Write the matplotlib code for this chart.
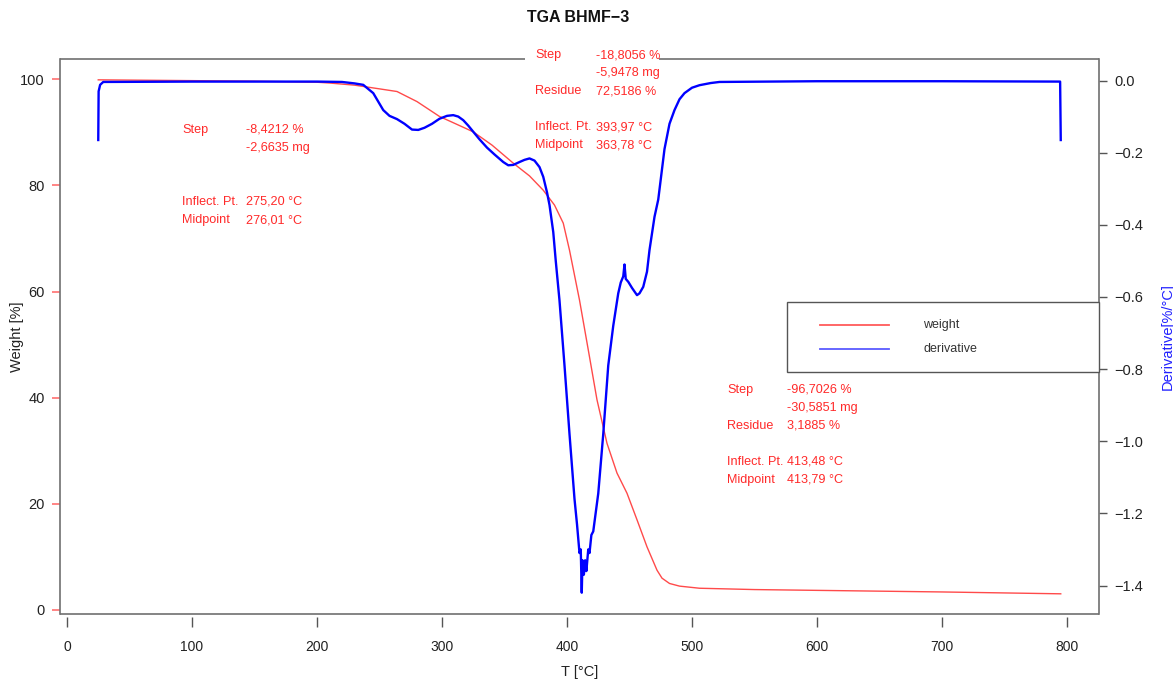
import matplotlib
matplotlib.use("Agg")
import matplotlib.pyplot as plt
from matplotlib.lines import Line2D
from matplotlib.patches import Rectangle

# ---- data -------------------------------------------------------------
weight_temp = [25, 50, 100, 150, 200, 210, 230, 250, 264, 280, 298, 312, 325,
               340, 357, 370, 381, 390, 397, 402, 410, 418, 424, 432, 440, 448,
               456, 464, 472, 476, 482, 490, 506, 550, 600, 700, 795]
weight_pct = [99.9, 99.85, 99.75, 99.65, 99.45, 99.3, 98.9, 98.2, 97.7, 95.8,
              93.0, 91.5, 90.1, 87.6, 84.2, 81.8, 79.1, 76.3, 72.9, 67.8, 58.4,
              47.7, 39.6, 31.4, 25.8, 22.0, 17.0, 11.9, 7.5, 6.0, 5.0, 4.5, 4.1,
              3.85, 3.7, 3.4, 3.05]

deriv_temp = [25.0, 25.3, 26.5, 29, 100, 200, 220, 230, 237, 245, 253, 258, 264,
              270, 276, 281, 286, 292, 298, 304, 309, 313, 317, 321, 325, 330,
              336, 342, 349, 353, 357, 362, 366, 370, 374, 378, 381, 384, 386,
              389, 391, 394, 398, 402, 406, 408, 409, 410, 411, 411.8, 412.4,
              413.5, 414.5, 415.5, 417, 418, 419.5, 421, 425, 429, 433, 437,
              441, 443, 445, 446, 447, 449, 452, 456, 458, 461, 464, 466, 470,
              473, 478, 482, 486, 490, 494, 500, 506, 515, 522, 600, 700, 794.5,
              795]
deriv_val = [-0.165, -0.03, -0.012, -0.004, -0.003, -0.003, -0.004, -0.008,
             -0.012, -0.035, -0.082, -0.098, -0.107, -0.12, -0.136, -0.137,
             -0.131, -0.12, -0.106, -0.098, -0.096, -0.1, -0.11, -0.125, -0.142,
             -0.163, -0.186, -0.205, -0.226, -0.235, -0.234, -0.226, -0.22,
             -0.216, -0.222, -0.24, -0.267, -0.31, -0.345, -0.42, -0.5, -0.61,
             -0.79, -0.98, -1.16, -1.23, -1.27, -1.31, -1.30, -1.42, -1.33,
             -1.37, -1.33, -1.36, -1.30, -1.31, -1.26, -1.25, -1.145, -0.98,
             -0.79, -0.68, -0.59, -0.56, -0.543, -0.51, -0.55, -0.558, -0.575,
             -0.595, -0.59, -0.572, -0.53, -0.47, -0.378, -0.33, -0.19, -0.12,
             -0.082, -0.052, -0.035, -0.02, -0.013, -0.007, -0.004, -0.002,
             -0.002, -0.003, -0.165]

x_ticks = [0, 100, 200, 300, 400, 500, 600, 700, 800]
w_ticks = [0, 20, 40, 60, 80, 100]
d_ticks = [0.0, -0.2, -0.4, -0.6, -0.8, -1.0, -1.2, -1.4]

steps = [
    (["Step", "", "", "", "Inflect. Pt.", "Midpoint"],
     ["-8,4212 %", "-2,6635 mg", "", "", "275,20 °C", "276,01 °C"],
     (182, 246, 130)),
    (["Step", "", "Residue", "", "Inflect. Pt.", "Midpoint"],
     ["-18,8056 %", "-5,9478 mg", "72,5186 %", "", "393,97 °C", "363,78 °C"],
     (535, 596, 55)),
    (["Step", "", "Residue", "", "Inflect. Pt.", "Midpoint"],
     ["-96,7026 %", "-30,5851 mg", "3,1885 %", "", "413,48 °C", "413,79 °C"],
     (727, 787, 390)),
]

# ---- figure -----------------------------------------------------------
W, H = 1173, 681
fig = plt.figure(figsize=(W / 100, H / 100), dpi=100)


def fx(px):
    return px / W


def fy(py):
    return 1 - py / H


SANS = ["Liberation Sans", "DejaVu Sans"]
FRAME = "#707070"
RED_TXT = "#ff2a2a"

left, right, top, bottom = 60, 1099, 59.3, 614
ax = fig.add_axes([fx(left), fy(bottom), fx(right - left), (bottom - top) / H])
ax2 = ax.twinx()

ax.plot(weight_temp, weight_pct, color="#ff4a4a", lw=1.0, zorder=2)
ax2.plot(deriv_temp, deriv_val, color="#0000ff", lw=1.7, zorder=3)

ax.set_xlim(-5.6, 825.6)
ax.set_ylim(-0.754, 103.77)
ax2.set_ylim(-1.479, 0.0588)

# frame
for sp in ["top", "bottom", "right"]:
    ax.spines[sp].set_visible(False)
for sp in ["top", "bottom", "left"]:
    ax2.spines[sp].set_visible(False)
ax.spines["left"].set_color(FRAME)
ax.spines["left"].set_linewidth(1.2)
ax2.spines["right"].set_color(FRAME)
ax2.spines["right"].set_linewidth(1.2)
ax.spines["bottom"].set_position(("outward", 2))

# bottom and broken top border of the plot box
x_gap0 = (525 - left) / (right - left)
x_gap1 = (659 - left) / (right - left)
for xs, ys in [([0, 1], [0, 0]), ([0, x_gap0], [1, 1]), ([x_gap1, 1], [1, 1])]:
    ax.plot(xs, ys, transform=ax.transAxes, color=FRAME, lw=1.2,
            clip_on=False, zorder=5, solid_capstyle="butt")

ax.set_xticks(x_ticks)
ax.set_xticklabels([str(t) for t in x_ticks], fontfamily=SANS, fontsize=10,
                   color="#222222")
ax.tick_params(axis="x", direction="out", length=7, width=1, color="#555555",
               pad=10)

ax.set_yticks(w_ticks)
ax.set_yticklabels([str(t) for t in w_ticks], fontfamily=SANS, fontsize=10.5,
                   color="#222222")
ax.tick_params(axis="y", direction="out", length=6, width=1.2, color="#ff7070",
               pad=5)

ax2.set_yticks(d_ticks)
ax2.set_yticklabels(["0.0" if t == 0 else f"\u2212{abs(t):.1f}" for t in d_ticks],
                    fontfamily=SANS, fontsize=10.5, color="#222222")
ax2.tick_params(axis="y", direction="out", length=6, width=1, color="#555555",
                pad=5)

ax.set_xlabel("T [°C]", fontfamily=SANS, fontsize=10.5, color="#222222")
ax.xaxis.set_label_coords(0.5, -(672 - bottom) / (bottom - top))
ax.xaxis.label.set_va("center")
ax.set_ylabel("Weight [%]", fontfamily=SANS, fontsize=10.5, color="#222222")
ax.yaxis.set_label_coords((24 - left) / (right - left), 0.5)
ax2.set_ylabel("Derivative[%/°C]", fontfamily=SANS, fontsize=10.5,
               color="#2020ff")
ax2.yaxis.set_label_coords((1161 - left) / (right - left), 0.5)

fig.text(fx(578), fy(18), "TGA BHMF\u22123", ha="center", va="center",
         fontfamily=SANS, fontsize=11.5, fontweight="bold", color="#111111")

# step evaluation annotations
line_h = 18
for labels, values, (xl, xv, y0) in steps:
    for i, (lab, val) in enumerate(zip(labels, values)):
        y = y0 + i * line_h
        if lab:
            fig.text(fx(xl), fy(y), lab, ha="left", va="center",
                     fontfamily=SANS, fontsize=9.1, color=RED_TXT)
        if val:
            fig.text(fx(xv), fy(y), val, ha="left", va="center",
                     fontfamily=SANS, fontsize=9.1, color=RED_TXT)

# legend box
fig.patches.append(Rectangle((fx(787), fy(372)), fx(1099 - 787), (372 - 302) / H,
                             transform=fig.transFigure, facecolor="white",
                             edgecolor="#555555", lw=1.0, zorder=6))
for py, col, lab in [(325, "#ff5a5a", "weight"), (349, "#5a5aff", "derivative")]:
    fig.lines.append(Line2D([fx(820), fx(889)], [fy(py), fy(py)],
                            transform=fig.transFigure, color=col, lw=1.3,
                            zorder=7))
    fig.text(fx(923), fy(py), lab, ha="left", va="center", fontfamily=SANS,
             fontsize=9, color="#333333", zorder=7)

fig.savefig("out.png", dpi=100, facecolor="white")
